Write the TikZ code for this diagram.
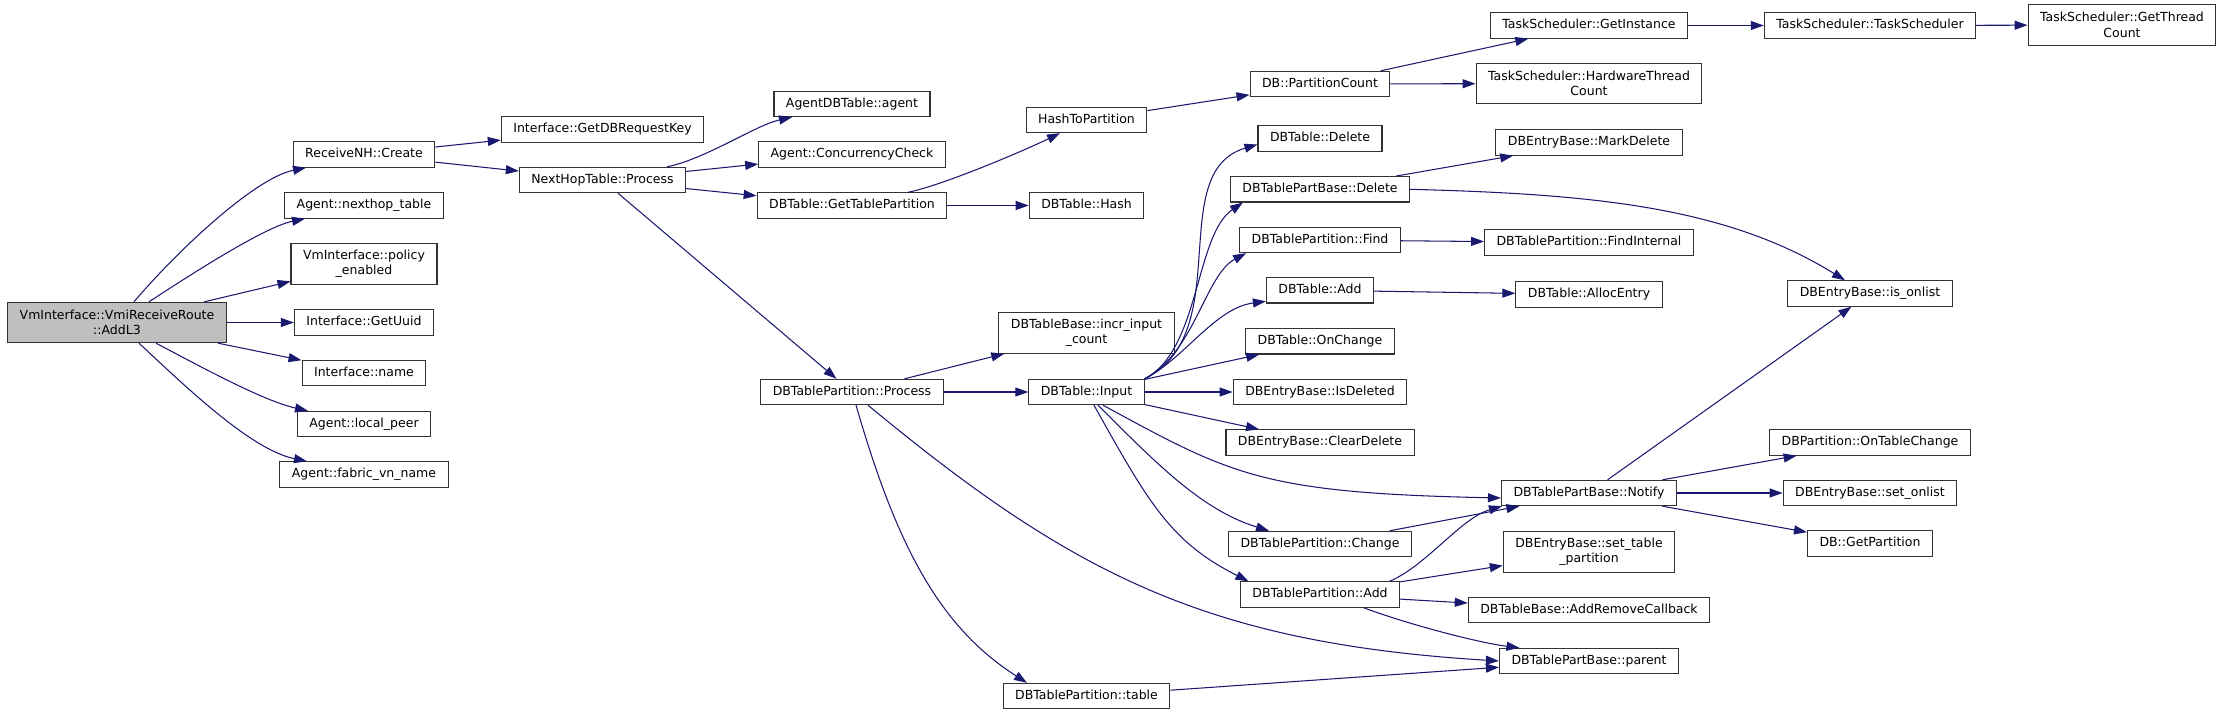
\documentclass[tikz,border=0pt]{standalone}
\usepackage{fontspec}
\setmainfont{DejaVu Sans}
\usetikzlibrary{arrows.meta}
\definecolor{callblue}{HTML}{191970}
\definecolor{boxline}{HTML}{333333}
\definecolor{current}{HTML}{BFBFBF}

\begin{document}
\begin{tikzpicture}[x=1pt, y=-1pt,
    every node/.style={font=\fontsize{12.5}{15.4}\selectfont},
    fn/.style={draw=boxline, line width=1.1pt, fill=white, inner xsep=12pt, inner ysep=0pt,
        minimum height=25.3pt, text height=9.5pt, text depth=3pt},
    fntwo/.style={fn, align=center, minimum height=40.3pt, text height=, text depth=},
    call/.style={draw=callblue, line width=1.05pt, -{Triangle[length=13pt, width=9pt]}}]
    \useasboundingbox (0,0) rectangle (2224,715);

    \node[fntwo, fill=current] (addl3) at (117,322.5) {VmInterface::VmiReceiveRoute\\::AddL3};

    \node[fn] (create) at (364,154.5) {ReceiveNH::Create};
    \node[fn] (nhtable) at (364,205.5) {Agent::nexthop\_table};
    \node[fntwo] (policy) at (364,264) {VmInterface::policy\\\_enabled};
    \node[fn] (getuuid) at (364,322.5) {Interface::GetUuid};
    \node[fn] (ifname) at (364,373) {Interface::name};
    \node[fn] (localpeer) at (364,424) {Agent::local\_peer};
    \node[fn] (fabricvn) at (364,474.5) {Agent::fabric\_vn\_name};

    \node[fn] (getdbkey) at (602.5,129.5) {Interface::GetDBRequestKey};
    \node[fn] (nhprocess) at (602.5,180) {NextHopTable::Process};

    \node[fn] (agentdb) at (852,104) {AgentDBTable::agent};
    \node[fn] (concheck) at (852,154.5) {Agent::ConcurrencyCheck};
    \node[fn] (gettp) at (852,205.5) {DBTable::GetTablePartition};
    \node[fn] (tpprocess) at (852,392) {DBTablePartition::Process};

    \node[fn] (hashtp) at (1086.5,120) {HashToPartition};
    \node[fn] (dbhash) at (1086.5,205.5) {DBTable::Hash};
    \node[fntwo] (incr) at (1086.5,333) {DBTableBase::incr\_input\\\_count};
    \node[fn] (input) at (1086.5,392) {DBTable::Input};
    \node[fn] (tptable) at (1086.5,696) {DBTablePartition::table};

    \node[fn] (partcount) at (1320,84) {DB::PartitionCount};
    \node[fn] (tdelete) at (1320,138.5) {DBTable::Delete};
    \node[fn] (pbdelete) at (1320,189.3) {DBTablePartBase::Delete};
    \node[fn] (tpfind) at (1320,240) {DBTablePartition::Find};
    \node[fn] (tadd) at (1320,290.3) {DBTable::Add};
    \node[fn] (onchange) at (1320,341.3) {DBTable::OnChange};
    \node[fn] (isdel) at (1320,392) {DBEntryBase::IsDeleted};
    \node[fn] (clrdel) at (1320,442.5) {DBEntryBase::ClearDelete};
    \node[fn] (tpchange) at (1320,544) {DBTablePartition::Change};
    \node[fn] (tpadd) at (1320,594.5) {DBTablePartition::Add};

    \node[fn] (getinst) at (1589,25.5) {TaskScheduler::GetInstance};
    \node[fntwo] (hwthread) at (1589,83.5) {TaskScheduler::HardwareThread\\Count};
    \node[fn] (markdel) at (1589,142.5) {DBEntryBase::MarkDelete};
    \node[fn] (findint) at (1589,242.5) {DBTablePartition::FindInternal};
    \node[fn] (alloc) at (1589,294.5) {DBTable::AllocEntry};
    \node[fn] (notify) at (1589,493) {DBTablePartBase::Notify};
    \node[fntwo] (settblpart) at (1589,552) {DBEntryBase::set\_table\\\_partition};
    \node[fn] (addremove) at (1589,610) {DBTableBase::AddRemoveCallback};
    \node[fn] (parent) at (1589,661) {DBTablePartBase::parent};

    \node[fn] (tsched) at (1870,25.5) {TaskScheduler::TaskScheduler};
    \node[fn] (isonlist) at (1870,293.5) {DBEntryBase::is\_onlist};
    \node[fn] (ontblchg) at (1870,442.5) {DBPartition::OnTableChange};
    \node[fn] (setonlist) at (1870,493) {DBEntryBase::set\_onlist};
    \node[fn] (getpart) at (1870,543.5) {DB::GetPartition};

    \node[fntwo] (getthread) at (2122,25) {TaskScheduler::GetThread\\Count};

    \draw[call] ([xshift=17pt]addl3.north) .. controls (178,250) and (255,178) .. ([xshift=-58pt]create.south);
    \draw[call] ([xshift=32pt]addl3.north) .. controls (187,277) and (264,227) .. ([xshift=-59pt]nhtable.south);
    \draw[call] (addl3) -- (policy);
    \draw[call] (addl3) -- (getuuid);
    \draw[call] (addl3) -- (ifname);
    \draw[call] ([xshift=39pt]addl3.south) .. controls (195,363.5) and (262,400.6) .. ([xshift=-56pt]localpeer.north);
    \draw[call] ([xshift=22pt]addl3.south) .. controls (183,384) and (250,449.5) .. ([xshift=-57pt]fabricvn.north);

    \draw[call] (create) -- (getdbkey);
    \draw[call] (create) -- (nhprocess);

    \draw[call] ([xshift=64.5pt]nhprocess.north) .. controls (705.7,159) and (756,125) .. ([xshift=-60pt]agentdb.south);
    \draw[call] (nhprocess) -- (concheck);
    \draw[call] (nhprocess) -- (gettp);
    \draw[call] (nhprocess) -- (tpprocess);

    \draw[call] ([xshift=56pt]gettp.north) .. controls (941.6,185.5) and (1020,152.5) .. ([xshift=-26.5pt]hashtp.south);
    \draw[call] (gettp) -- (dbhash);
    \draw[call] (hashtp) -- (partcount);
    \draw[call] (partcount) -- (getinst);
    \draw[call] (partcount) -- (hwthread);
    \draw[call] (getinst) -- (tsched);
    \draw[call] (tsched) -- (getthread);

    \draw[call] (tpprocess) -- (incr);
    \draw[call] (tpprocess) -- (input);
    \draw[call] ([xshift=16pt]tpprocess.south) .. controls (1072,574) and (1206,643) .. (parent.west);
    \draw[call] ([xshift=4pt]tpprocess.south) .. controls (894.5,538) and (936,625) .. ([xshift=-59.5pt]tptable.north);

    \draw[call] (input.north east) .. controls (1237,333) and (1164,172) .. ([yshift=-6pt]tdelete.west);
    \draw[call] (input.north east) .. controls (1200,350) and (1195,235) .. ([xshift=13pt]pbdelete.south west);
    \draw[call] (input.north east) .. controls (1195,352) and (1205,275) .. ([xshift=7pt]tpfind.south west);
    \draw[call] (input.north east) .. controls (1185,358) and (1215,308) .. ([yshift=-11pt]tadd.west);
    \draw[call] (input) -- (onchange);
    \draw[call] (input) -- (isdel);
    \draw[call] (input) -- (clrdel);
    \draw[call] ([xshift=16.5pt]input.south) .. controls (1231.5,475) and (1261.5,493) .. ([yshift=-5pt]notify.west);
    \draw[call] ([xshift=11.5pt]input.south) .. controls (1156,463) and (1201.5,510) .. ([xshift=-51pt]tpchange.north);
    \draw[call] ([xshift=7.5pt]input.south) .. controls (1149.7,505) and (1171,542) .. ([xshift=-71.5pt]tpadd.north);

    \draw[call] (pbdelete) -- (markdel);
    \draw[call] (pbdelete.east) .. controls (1589.6,194) and (1725,206) .. ([xshift=-25pt]isonlist.north);
    \draw[call] (tpfind) -- (findint);
    \draw[call] (tadd) -- (alloc);

    \draw[call] (notify) -- (isonlist);
    \draw[call] (notify) -- (ontblchg);
    \draw[call] (notify) -- (setonlist);
    \draw[call] (notify) -- (getpart);

    \draw[call] (tpchange) -- (notify);
    \draw[call] ([xshift=69.5pt]tpadd.north) .. controls (1426,566) and (1461,518) .. ([xshift=1pt]notify.south west);
    \draw[call] (tpadd) -- (settblpart);
    \draw[call] (tpadd) -- (addremove);
    \draw[call] ([xshift=43.5pt]tpadd.south) .. controls (1410,625) and (1480,643) .. ([xshift=-69.5pt]parent.north);
    \draw[call] (tptable) -- (parent);
\end{tikzpicture}
\end{document}
